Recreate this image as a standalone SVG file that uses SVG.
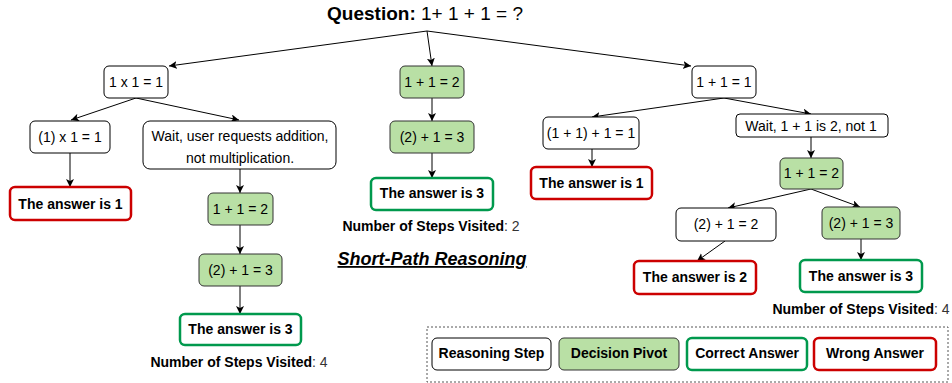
<svg xmlns="http://www.w3.org/2000/svg" width="952" height="383" viewBox="0 0 952 383">
<defs>
<style>
text{font-family:"Liberation Sans",Arial,sans-serif;fill:#000}
.t{font-size:14px;text-anchor:middle}
.b{font-size:14px;font-weight:bold;text-anchor:middle}
.step{fill:#fff;stroke:#000;stroke-width:1}
.piv{fill:#b9e0a5;stroke:#333;stroke-width:1}
.ok{fill:#fff;stroke:#00994d;stroke-width:2.5}
.bad{fill:#fff;stroke:#cc0000;stroke-width:2.5}
.e{stroke:#000;stroke-width:1;fill:none}
</style>
<marker id="a" markerUnits="userSpaceOnUse" markerWidth="10" markerHeight="10" refX="8" refY="4" orient="auto">
<path d="M0,0 L8,4 L0,8 L2,4 Z" fill="#000"/>
</marker>
</defs>
<rect width="952" height="383" fill="#fff"/>
<text x="425" y="20" style="font-size:19px;text-anchor:middle"><tspan font-weight="bold">Question:</tspan> 1+ 1 + 1 = ?</text>

<g id="connectors">
<line class="e" x1="427" y1="31" x2="169" y2="66" marker-end="url(#a)"/>
<line class="e" x1="427" y1="31" x2="432" y2="66" marker-end="url(#a)"/>
<line class="e" x1="427" y1="31" x2="691" y2="66" marker-end="url(#a)"/>
<line class="e" x1="136" y1="98" x2="71" y2="120" marker-end="url(#a)"/>
<line class="e" x1="136" y1="98" x2="239" y2="120" marker-end="url(#a)"/>
<line class="e" x1="70" y1="153" x2="70" y2="187" marker-end="url(#a)"/>
<line class="e" x1="240" y1="169" x2="240" y2="193" marker-end="url(#a)"/>
<line class="e" x1="240" y1="225" x2="240" y2="254" marker-end="url(#a)"/>
<line class="e" x1="240" y1="286" x2="240" y2="314" marker-end="url(#a)"/>
<line class="e" x1="432" y1="98" x2="432" y2="121" marker-end="url(#a)"/>
<line class="e" x1="432" y1="153" x2="432" y2="178" marker-end="url(#a)"/>
<line class="e" x1="724" y1="98" x2="592" y2="117" marker-end="url(#a)"/>
<line class="e" x1="724" y1="98" x2="811" y2="114" marker-end="url(#a)"/>
<line class="e" x1="592" y1="149" x2="592" y2="167" marker-end="url(#a)"/>
<line class="e" x1="811" y1="137" x2="811" y2="158" marker-end="url(#a)"/>
<line class="e" x1="811" y1="189" x2="728" y2="208" marker-end="url(#a)"/>
<line class="e" x1="811" y1="189" x2="860" y2="207" marker-end="url(#a)"/>
<line class="e" x1="725" y1="241" x2="697" y2="261" marker-end="url(#a)"/>
<line class="e" x1="861" y1="239" x2="861" y2="260" marker-end="url(#a)"/>
</g>

<g id="n1"><rect class="step" x="104" y="66" width="64" height="32" rx="5"/><text class="t" x="136" y="87">1 x 1 = 1</text></g>
<g id="n2"><rect class="piv" x="400" y="66" width="64" height="32" rx="5"/><text class="t" x="432" y="87">1 + 1 = 2</text></g>
<g id="n3"><rect class="step" x="692" y="66" width="64" height="32" rx="5"/><text class="t" x="724" y="87">1 + 1 = 1</text></g>

<g id="n4"><rect class="step" x="30" y="121" width="80" height="32" rx="5"/><text class="t" x="70" y="142">(1) x 1 = 1</text></g>
<g id="n5"><rect class="step" x="143" y="121" width="193" height="48" rx="7"/><text class="t" x="240" y="141">Wait, user requests addition,</text><text class="t" x="240" y="163">not multiplication.</text></g>
<g id="n6"><rect class="piv" x="390" y="121" width="84" height="32" rx="5"/><text class="t" x="432" y="142">(2) + 1 = 3</text></g>

<g id="n7"><rect class="bad" x="10" y="187" width="121" height="33" rx="5"/><text class="b" x="70.5" y="209">The answer is 1</text></g>
<g id="n8"><rect class="piv" x="208" y="193" width="65" height="32" rx="5"/><text class="t" x="240.5" y="214">1 + 1 = 2</text></g>
<g id="n9"><rect class="piv" x="199" y="254" width="83" height="32" rx="5"/><text class="t" x="240.5" y="275">(2) + 1 = 3</text></g>
<g id="n10"><rect class="ok" x="180" y="314" width="121" height="31" rx="5"/><text class="b" x="240.5" y="334">The answer is 3</text></g>
<text x="239" y="367" class="b"><tspan>Number of Steps Visited</tspan><tspan font-weight="normal" fill="#333">: 4</tspan></text>

<g id="n11"><rect class="ok" x="371" y="178" width="122" height="32" rx="5"/><text class="b" x="432" y="198">The answer is 3</text></g>
<text x="431" y="231" class="b"><tspan>Number of Steps Visited</tspan><tspan font-weight="normal" fill="#333">: 2</tspan></text>

<text x="432" y="265" style="font-size:18px;font-weight:bold;font-style:italic;text-anchor:middle;text-decoration:underline">Short-Path Reasoning</text>

<g id="n12"><rect class="step" x="543" y="117" width="96" height="32" rx="5"/><text class="t" x="591" y="138">(1 + 1) + 1 = 1</text></g>
<g id="n13"><rect class="step" x="736" y="114" width="152" height="23" rx="4"/><text class="t" x="811" y="131">Wait, 1 + 1 is 2, not 1</text></g>
<g id="n14"><rect class="bad" x="531" y="167" width="121" height="32" rx="5"/><text class="b" x="591.5" y="188">The answer is 1</text></g>
<g id="n15"><rect class="piv" x="780" y="158" width="63" height="31" rx="5"/><text class="t" x="811.5" y="178">1 + 1 = 2</text></g>
<g id="n16"><rect class="step" x="676" y="208" width="100" height="33" rx="5"/><text class="t" x="726" y="229">(2) + 1 = 2</text></g>
<g id="n17"><rect class="piv" x="822" y="207" width="78" height="32" rx="5"/><text class="t" x="861" y="228">(2) + 1 = 3</text></g>
<g id="n18"><rect class="bad" x="634" y="261" width="122" height="33" rx="5"/><text class="b" x="695" y="282">The answer is 2</text></g>
<g id="n19"><rect class="ok" x="800" y="260" width="122" height="32" rx="5"/><text class="b" x="861" y="281">The answer is 3</text></g>
<text x="861" y="314" class="b"><tspan>Number of Steps Visited</tspan><tspan font-weight="normal" fill="#333">: 4</tspan></text>

<g id="legend">
<rect x="427" y="327" width="521" height="55" fill="none" stroke="#555" stroke-width="1" stroke-dasharray="2,2"/>
<rect class="step" x="432" y="338" width="119" height="32" rx="5"/><text class="b" x="491.5" y="358">Reasoning Step</text>
<rect class="piv" x="559" y="338" width="120" height="32" rx="5"/><text class="b" x="619" y="358">Decision Pivot</text>
<rect class="ok" x="687" y="338" width="120" height="32" rx="5"/><text class="b" x="747" y="358">Correct Answer</text>
<rect class="bad" x="814" y="338" width="122" height="32" rx="5"/><text class="b" x="875" y="358">Wrong Answer</text>
</g>
</svg>
